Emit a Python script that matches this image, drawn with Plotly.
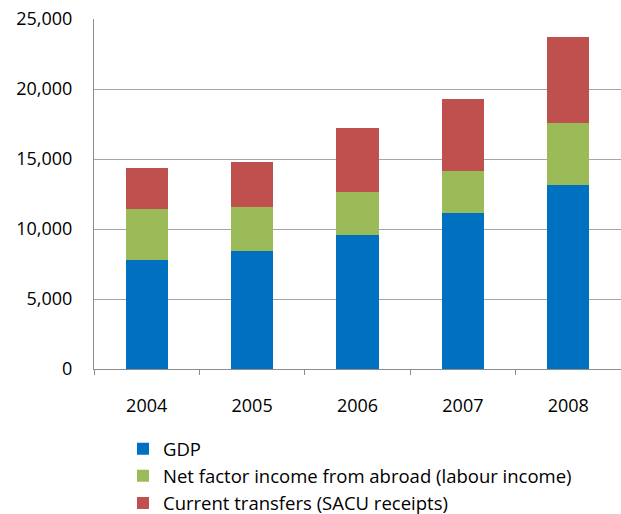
import plotly.graph_objects as go

# Income components by year (stacked)
years = ["2004", "2005", "2006", "2007", "2008"]
gdp = [7810, 8430, 9600, 11140, 13170]
net_factor_income = [3620, 3160, 3020, 3000, 4400]
current_transfers = [2910, 3200, 4570, 5120, 6120]

series = [
    ("GDP", gdp, "#0070C0"),
    ("Net factor income from abroad (labour income)", net_factor_income, "#9BBB59"),
    ("Current transfers (SACU receipts)", current_transfers, "#C0504D"),
]

y_ticks = [0, 5000, 10000, 15000, 20000, 25000]

fig = go.Figure()
for name, vals, color in series:
    fig.add_trace(go.Bar(
        x=years, y=vals, name=name,
        marker=dict(color=color, line=dict(width=0)),
    ))

tick_font = dict(family="'Open Sans', Lato, sans-serif", size=18, color="#000000")
legend_font = dict(family="'Open Sans', Lato, sans-serif", size=18.5, color="#000000")

fig.update_layout(
    barmode="stack",
    bargap=0.6,
    width=621, height=514,
    margin=dict(l=94, r=0, t=19, b=145, autoexpand=False),
    paper_bgcolor="white",
    plot_bgcolor="white",
    font=tick_font,
    showlegend=True,
    legend=dict(
        orientation="v",
        x=0.055, xanchor="left",
        y=-0.175, yanchor="top",
        font=legend_font,
        traceorder="normal",
        itemwidth=30,
        tracegroupgap=0,
        bgcolor="rgba(0,0,0,0)",
    ),
    xaxis=dict(
        type="category",
        showline=True, linecolor="#8C8C8C", linewidth=1,
        ticks="outside", tickson="boundaries", ticklen=5,
        tickcolor="#8C8C8C", tickwidth=1,
        showgrid=False,
        ticklabelstandoff=20,
        tickfont=tick_font,
    ),
    yaxis=dict(
        range=[0, 25000],
        tickvals=y_ticks,
        ticktext=[f"{v:,}" for v in y_ticks],
        showline=True, linecolor="#8C8C8C", linewidth=1,
        showgrid=True, gridcolor="#A6A6A6", gridwidth=1,
        zeroline=False,
        ticks="", ticklabelstandoff=17,
        tickfont=tick_font,
    ),
)

fig.write_html("out.html")
